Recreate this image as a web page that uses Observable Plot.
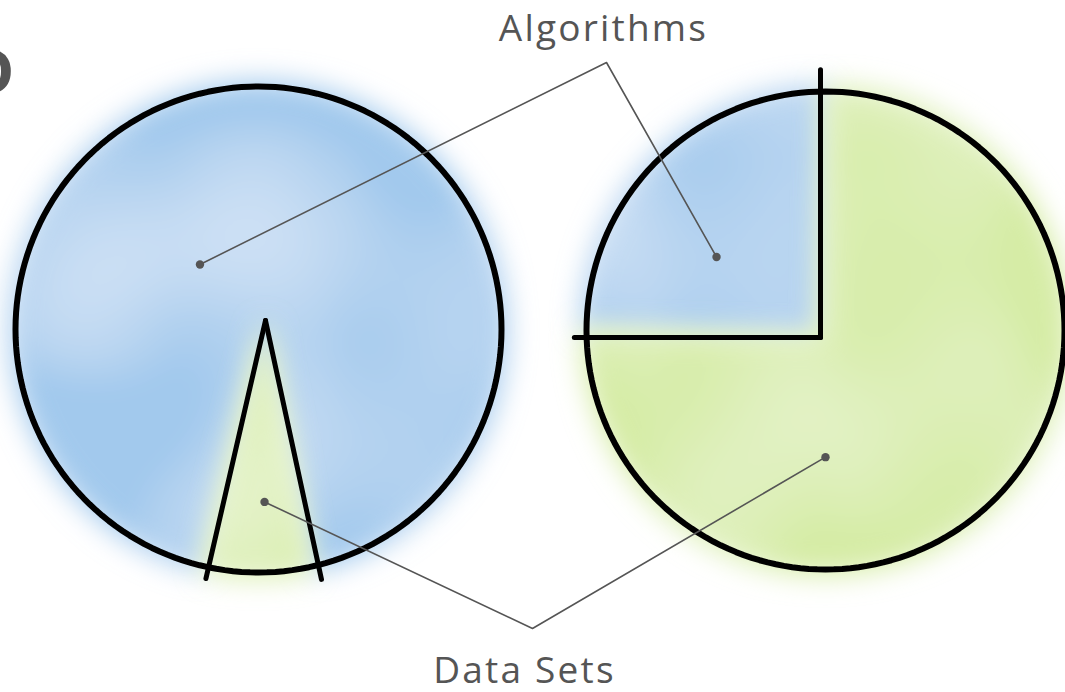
<!DOCTYPE html>
<html>
<head>
<meta charset="utf-8">
<script src="https://cdn.jsdelivr.net/npm/d3@7"></script>
<script src="https://cdn.jsdelivr.net/npm/@observablehq/plot@0.6"></script>
<style>
  html, body { margin: 0; padding: 0; background: #fff; overflow: hidden; }
  svg { display: block; }
</style>
</head>
<body>
<div id="chart"></div>
<script>
// ---- data ----
const categories = ["Algorithms", "Data Sets"];
const leftShares = [93, 7];     // percent, left pie
const rightShares = [25, 75];   // percent, right pie
const sliceColors = ["#a2c9ed", "#d6eca6"];

// ---- layout (positions / styles) ----
const W = 1065, H = 692;
const fillPad = 5;
const pieLayout = [
  {name: "left",  shares: leftShares,  cx: 258, cy: 329, r: 243, ax: 265, ay: 320, start: 193, overshoot: [1.09, 1.09],
   anchors: [[318, 0.36], [178, 0.71]]},
  {name: "right", shares: rightShares, cx: 825, cy: 330, r: 239, ax: 820, ay: 337, start: 270, overshoot: [1.03, 1.12],
   anchors: [[304, 0.55], [180, 0.53]]}
];
const labelPos = [{x: 603, y: 29, apexX: 606, apexY: 62}, {x: 524, y: 671, apexX: 532, apexY: 628}];

const rad = d => d * Math.PI / 180;
const polar = (cx, cy, ang, rr) => ({x: cx + rr * Math.sin(rad(ang)), y: cy - rr * Math.cos(rad(ang))});

const slicePts = [], outlinePts = [], radialLinks = [], anchorPts = [];
pieLayout.forEach(p => {
  const total = d3.sum(p.shares);
  let a = p.start;
  p.shares.forEach((v, i) => {
    const sweep = v / total * 360;
    const key = p.name + "-" + i;
    slicePts.push({key, cat: i, x: p.ax, y: p.ay});
    const n = Math.max(2, Math.ceil(sweep));
    for (let k = 0; k <= n; k++) {
      slicePts.push({key, cat: i, ...polar(p.cx, p.cy, a + sweep * k / n, p.r + fillPad)});
    }
    slicePts.push({key, cat: i, x: p.ax, y: p.ay});
    const e = polar(p.ax, p.ay, a, p.r * p.overshoot[i]);
    radialLinks.push({x1: p.ax, y1: p.ay, x2: e.x, y2: e.y});
    const an = p.anchors[i];
    anchorPts.push({cat: i, pie: p.name, ...polar(p.cx, p.cy, an[0], p.r * an[1])});
    a += sweep;
  });
  for (let d = 0; d <= 360; d += 2) outlinePts.push({key: p.name, ...polar(p.cx, p.cy, d, p.r)});
});

const leaderPts = [];
categories.forEach((c, i) => {
  const [l, r] = anchorPts.filter(d => d.cat === i);
  leaderPts.push({key: c, x: l.x, y: l.y}, {key: c, x: labelPos[i].apexX, y: labelPos[i].apexY}, {key: c, x: r.x, y: r.y});
});
const labels = categories.map((c, i) => ({text: c, x: labelPos[i].x, y: labelPos[i].y}));

const svg = Plot.plot({
  width: W, height: H, margin: 0,
  x: {domain: [0, W], range: [0, W], axis: null},
  y: {domain: [0, H], range: [0, H], axis: null},
  style: {background: "#fff"},
  marks: [
    Plot.line(slicePts.filter(d => d.cat === 0), {x: "x", y: "y", z: "key", fill: sliceColors[0], stroke: sliceColors[0], strokeWidth: 1}),
    Plot.line(slicePts.filter(d => d.cat === 1), {x: "x", y: "y", z: "key", fill: sliceColors[1], stroke: sliceColors[1], strokeWidth: 1}),
    Plot.line(outlinePts, {x: "x", y: "y", z: "key", stroke: "#000", strokeWidth: 6, fill: "none"}),
    Plot.link(radialLinks, {x1: "x1", y1: "y1", x2: "x2", y2: "y2", stroke: "#000", strokeWidth: 5, strokeLinecap: "round"}),
    Plot.line(leaderPts, {x: "x", y: "y", z: "key", stroke: "#555", strokeWidth: 1.6}),
    Plot.dot(anchorPts, {x: "x", y: "y", r: 4.2, fill: "#555", stroke: "none"}),
    Plot.text(labels, {x: "x", y: "y", text: "text", fontSize: 37, fill: "#555", fontFamily: "'Open Sans', sans-serif", textAnchor: "middle"}),
    Plot.text(["D"], {x: [14], y: [74], text: d => d, fontSize: 62, fontWeight: "bold", fill: "#555", textAnchor: "end", fontFamily: "'Open Sans', sans-serif"})
  ]
});

const s = d3.select(svg);
const defs = s.insert("defs", ":first-child");
const f = defs.append("filter").attr("id", "soft").attr("filterUnits", "userSpaceOnUse")
  .attr("x", 0).attr("y", 0).attr("width", W).attr("height", H);
f.append("feGaussianBlur").attr("in", "SourceGraphic").attr("stdDeviation", 14).attr("result", "blur");
f.append("feTurbulence").attr("type", "fractalNoise").attr("baseFrequency", 0.006).attr("numOctaves", 1).attr("seed", 11).attr("result", "noise");
f.append("feColorMatrix").attr("in", "noise").attr("type", "matrix")
  .attr("values", "0 0 0 0 1  0 0 0 0 1  0 0 0 0 1  1.0 0 0 0 -0.38").attr("result", "wn0");
f.append("feGaussianBlur").attr("in", "wn0").attr("stdDeviation", 10).attr("result", "wn");
f.append("feComposite").attr("in", "wn").attr("in2", "blur").attr("operator", "in").attr("result", "wm");
const m = f.append("feMerge");
m.append("feMergeNode").attr("in", "blur");
m.append("feMergeNode").attr("in", "wm");
const groups = s.selectAll(":scope > g").nodes();
groups.slice(0, 2).forEach(g => g.setAttribute("filter", "url(#soft)"));
s.selectAll("text").filter(function() { return labels.some(l => l.text === this.textContent); }).style("letter-spacing", "2.2px");

document.getElementById("chart").appendChild(svg);
</script>
</body>
</html>
